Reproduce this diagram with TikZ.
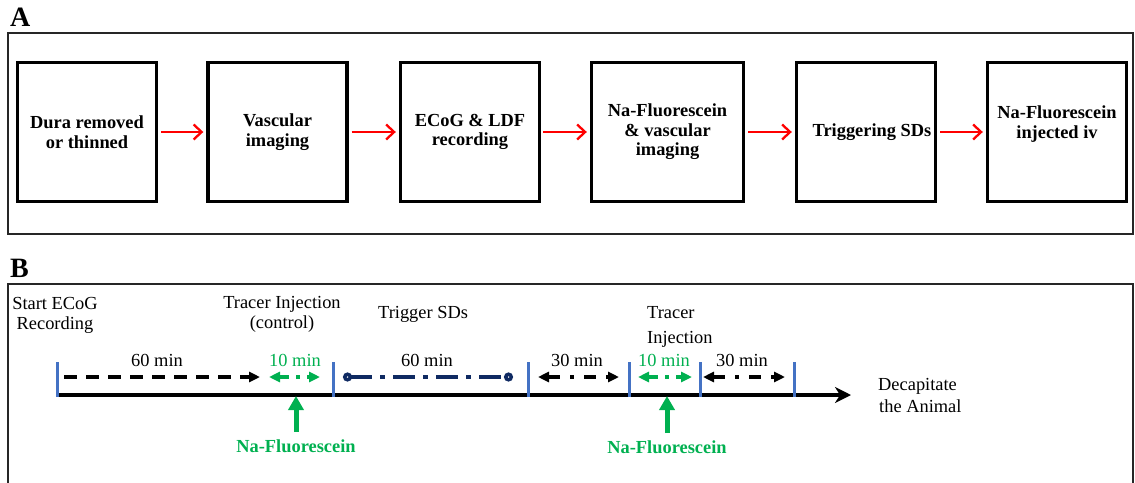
\documentclass[tikz,border=0pt]{standalone}
\usepackage{fontspec}
\setmainfont{Liberation Serif}
\usetikzlibrary{arrows.meta}
\definecolor{tickblue}{HTML}{4472C4}
\definecolor{tracergreen}{HTML}{00B050}
\definecolor{sdnavy}{HTML}{0F2A62}
\definecolor{flowred}{HTML}{FF0000}

\begin{document}
\begin{tikzpicture}[x=1pt,y=-1pt,
  panel/.style={line width=1.4pt, draw=black!85},
  paneltag/.style={inner sep=0pt, anchor=base west, font=\fontsize{28}{30}\selectfont\bfseries},
  stepbox/.style={draw, line width=3.4pt, minimum width=139pt, minimum height=139pt,
    inner sep=0pt, align=center, font=\fontsize{18.4}{19.5}\selectfont\bfseries},
  flow/.style={draw=flowred, line width=2.3pt, -{Straight Barb[length=8pt,width=15pt]}},
  lbl/.style={inner sep=0pt, font=\fontsize{18.4}{20}\selectfont},
  tracer/.style={inner sep=0pt, anchor=base, text=tracergreen, font=\fontsize{18.4}{20}\selectfont\bfseries},
  timeline/.style={line width=3.6pt, -{Stealth[length=16pt,width=16pt,inset=5pt]}},
  tick/.style={draw=tickblue, line width=3pt},
  span/.style={line width=3.5pt},
  tri/.tip={Triangle[length=11pt,width=10pt]},
  ring/.tip={Circle[open,length=9pt,width=9pt,fill=white]},
  injection/.style={draw=tracergreen, line width=5pt, -{Triangle[length=14pt,width=15pt]}}
]
\useasboundingbox (0,0) rectangle (1135,482);

% ---------- Panel A: procedure ----------
\node[paneltag] (tagA) at (10,26) {A};
\draw[panel] (8,33) rectangle (1133,234);

\node[stepbox] (b1) at (87,132) {Dura removed\\or thinned};
\node[stepbox] (b2) at (277.5,132) {Vascular\\imaging};
\node[stepbox] (b3) at (470,132) {ECoG \& LDF\\recording};
\node[stepbox, minimum width=152pt] (b4) at (667.5,132) {Na-Fluorescein\\\& vascular\\imaging};
\node[stepbox] (b5) at (866,132) {\hspace*{12pt}Triggering SDs};
\node[stepbox] (b6) at (1057,132) {Na-Fluorescein\\injected iv\\\mbox{}};

\draw[flow] ([xshift=3pt]b1.east) -- ([xshift=-3pt]b2.west);
\draw[flow] ([xshift=3pt]b2.east) -- ([xshift=-3pt]b3.west);
\draw[flow] ([xshift=2pt]b3.east) -- ([xshift=-3pt]b4.west);
\draw[flow] ([xshift=3pt]b4.east) -- ([xshift=-3pt]b5.west);
\draw[flow] ([xshift=3pt]b5.east) -- ([xshift=-3pt]b6.west);

% ---------- Panel B: timeline ----------
\node[paneltag] (tagB) at (10,277) {B};
\draw[panel] (8,490) -- (8,284) -- (1133,284) -- (1133,490);

\coordinate (t0) at (57,395);
\coordinate (t1) at (333,395);
\coordinate (t2) at (528,395);
\coordinate (t3) at (629,395);
\coordinate (t4) at (700,395);
\coordinate (t5) at (794,395);
\coordinate (tend) at (851,395);
\draw[timeline] (t0) -- (tend);
\foreach \t in {t0,t1,t2,t3,t4,t5}
  \draw[tick] ([yshift=33pt]\t) -- ([yshift=-2pt]\t);

% event captions
\node[lbl, anchor=north, align=center] (start) at (55,297) {Start ECoG\\Recording};
\node[lbl, anchor=north, align=center] (inj1) at (282,296) {Tracer Injection\\(control)};
\node[lbl, anchor=north west] (trig) at (378,306) {Trigger SDs};
\node[lbl, anchor=north west, align=left, font=\fontsize{18.4}{25}\selectfont] (inj2) at (647,306) {Tracer\\Injection};
\node[lbl, anchor=north west, align=left, font=\fontsize{18.4}{22}\selectfont] (end) at (878,378) {Decapitate\\\hspace*{1pt}the Animal};

% interval spans
\draw[span, dash pattern=on 13pt off 9pt, -tri] (64,377) -- (260,377);
\draw[span, tracergreen, dash pattern=on 10pt off 7pt on 4pt off 7pt, tri-tri] (269,377) -- (320,377);
\draw[span, sdnavy, dash pattern=on 22pt off 8pt on 5pt off 8pt, ring-ring] (343,377) -- (513,377);
\draw[span, dash pattern=on 12pt off 10pt on 4pt off 10pt, tri-tri] (538,377) -- (619,377);
\draw[span, tracergreen, dash pattern=on 10pt off 7pt on 4pt off 7pt, tri-tri] (638,377) -- (692,377);
\draw[span, dash pattern=on 12pt off 10pt on 4pt off 10pt, tri-tri] (703,377) -- (785,377);

\node[lbl, anchor=base] (d1) at (157,366) {60 min};
\node[lbl, anchor=base, text=tracergreen] (d2) at (295,366) {10 min};
\node[lbl, anchor=base] (d3) at (427,366) {60 min};
\node[lbl, anchor=base] (d4) at (577,366) {30 min};
\node[lbl, anchor=base, text=tracergreen] (d5) at (664,366) {10 min};
\node[lbl, anchor=base] (d6) at (742,366) {30 min};

% tracer injections
\coordinate (g1) at (296,396);
\coordinate (g2) at (667,396);
\node[tracer] (naf1) at (296,452) {Na-Fluorescein};
\node[tracer] (naf2) at (667,453) {Na-Fluorescein};
\draw[injection] ([yshift=7pt]naf1.north) -- (g1);
\draw[injection] ([yshift=7pt]naf2.north) -- (g2);
\end{tikzpicture}
\end{document}
